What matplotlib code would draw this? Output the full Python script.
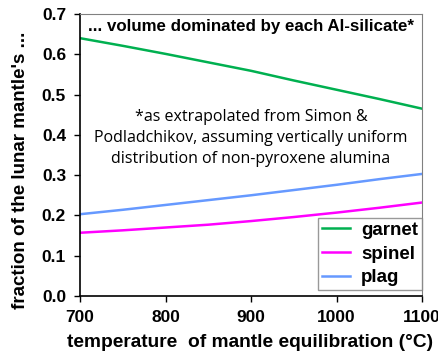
import numpy as np
import matplotlib.pyplot as plt

temps = [700, 750, 800, 850, 900, 950, 1000, 1050, 1100]
garnet = [0.640, 0.621, 0.601, 0.580, 0.559, 0.535, 0.512, 0.489, 0.465]
spinel = [0.157, 0.163, 0.170, 0.177, 0.186, 0.196, 0.207, 0.219, 0.232]
plag = [0.203, 0.214, 0.226, 0.238, 0.250, 0.263, 0.276, 0.290, 0.303]

fig = plt.figure(figsize=(4.39, 3.58), dpi=100)
ax = fig.add_axes([80/439, 1-296/358, 342/439, 282/358])

ax.plot(temps, garnet, color="#00b050", lw=1.8, label="garnet")
ax.plot(temps, spinel, color="#ff00ff", lw=1.8, label="spinel")
ax.plot(temps, plag, color="#6699ff", lw=1.8, label="plag")

ax.set_xlim(700, 1100)
ax.set_ylim(0, 0.7)
ax.set_xticks([700, 800, 900, 1000, 1100])
ax.set_yticks(np.arange(0, 0.71, 0.1))
ax.set_yticklabels([f"{v:.1f}" for v in np.arange(0, 0.71, 0.1)])
ax.tick_params(direction="out", length=4, width=1, labelsize=12.5, pad=6)
for lab in ax.get_xticklabels() + ax.get_yticklabels():
    lab.set_fontweight("bold")
    lab.set_family("Liberation Sans")
for s in ["top", "right"]:
    ax.spines[s].set_color("#808080")
for s in ["left", "bottom"]:
    ax.spines[s].set_linewidth(1.2)

ax.set_xlabel("temperature  of mantle equilibration (°C)", fontsize=13.8,
              fontweight="bold", family="Liberation Sans")
ax.xaxis.set_label_coords(0.497, -0.135)
ax.set_ylabel("fraction of the lunar mantle's ...", fontsize=13.5,
              fontweight="bold", family="Liberation Sans")
ax.yaxis.set_label_coords(-0.15, 0.447)

ax.text(900, 0.668, "... volume dominated by each Al-silicate*", ha="center",
        va="center", fontsize=12.2, fontweight="bold", family="Liberation Sans")
ax.text(900, 0.393, "*as extrapolated from Simon &\nPodladchikov, assuming vertically uniform\n"
        "distribution of non-pyroxene alumina", ha="center", va="center",
        fontsize=11.5, family="Open Sans", linespacing=1.42)

leg = ax.legend(loc="lower right", bbox_to_anchor=(1, 6/282), frameon=True,
                fancybox=False, edgecolor="#808080", handlelength=1.5,
                handletextpad=0.6, borderaxespad=0, labelspacing=0.35,
                borderpad=0.2,
                prop={"family": "Liberation Sans", "weight": "bold", "size": 13.5})
leg.get_frame().set_linewidth(1)

fig.savefig("out.png", dpi=100)
